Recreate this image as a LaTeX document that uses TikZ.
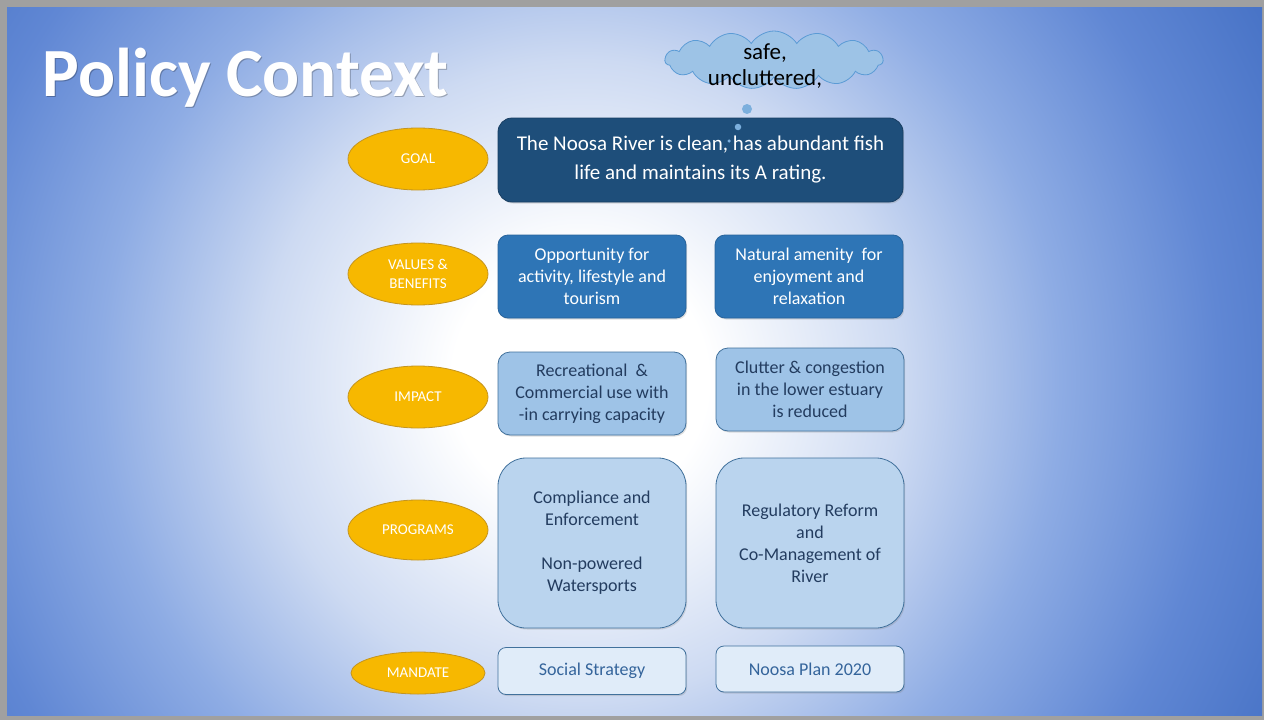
\documentclass[tikz,border=0pt]{standalone}
\usepackage{fontspec}
\setmainfont{Carlito}
\usetikzlibrary{positioning,shapes.geometric,shapes.symbols,shadows}
\definecolor{bgedge}{RGB}{68,112,196}
\definecolor{bgdeep}{RGB}{96,135,212}
\definecolor{bgmid}{RGB}{142,172,228}
\definecolor{bglight}{RGB}{205,218,242}
\definecolor{framegray}{RGB}{160,160,160}
\definecolor{goldfill}{RGB}{247,184,0}
\definecolor{golddraw}{RGB}{196,148,30}
\definecolor{goalblue}{RGB}{30,78,122}
\definecolor{valblue}{RGB}{46,117,182}
\definecolor{impblue}{RGB}{158,195,231}
\definecolor{progblue}{RGB}{186,212,238}
\definecolor{manblue}{RGB}{224,236,249}
\definecolor{edgeblue}{RGB}{65,113,156}
\definecolor{boxtext}{RGB}{35,60,95}
\definecolor{mantext}{RGB}{52,100,155}
\definecolor{cloudfill}{RGB}{157,195,230}
\definecolor{clouddraw}{RGB}{91,155,213}
\pgfdeclareradialshading{slideshade}{\pgfpoint{0bp}{0bp}}{color(0bp)=(white); color(4bp)=(white); color(10bp)=(bglight); color(15bp)=(bgmid); color(20bp)=(bgdeep); color(25bp)=(bgedge); color(50bp)=(bgedge)}
\def\slideframe{(0,0) rectangle (1264,720)}
\def\slidearea{(7,7) rectangle (1262,715)}
\def\slideglow{(580,380) circle (800)}

\begin{document}
\begin{tikzpicture}[x=1pt,y=-1pt,
    tier/.style={ellipse,fill=goldfill,draw=golddraw,line width=0.8pt,minimum width=140pt,minimum height=62pt,inner sep=0pt,text=white,align=center,font=\fontsize{15}{19}\selectfont},
    box/.style={rectangle,draw=edgeblue,line width=0.8pt,inner sep=0pt,align=center,minimum width=188pt,minimum height=83pt,drop shadow={opacity=0.25,shadow xshift=1.2pt,shadow yshift=-1.5pt}},
    goalbox/.style={box,fill=goalblue,draw=goalblue!80!black,text=white,rounded corners=14pt,minimum width=405pt,minimum height=84pt,font=\fontsize{21}{29}\selectfont},
    valbox/.style={box,fill=valblue,draw=valblue!85!black,text=white,rounded corners=10pt,font=\fontsize{18}{22}\selectfont},
    impbox/.style={box,fill=impblue,text=boxtext,rounded corners=12pt,font=\fontsize{18}{22}\selectfont},
    progbox/.style={box,fill=progblue,text=boxtext,rounded corners=28pt,minimum height=170pt,font=\fontsize{18}{22}\selectfont},
    manbox/.style={box,fill=manblue,text=mantext,rounded corners=8pt,minimum height=47pt,font=\fontsize{18}{22}\selectfont},
    bubble/.style={circle,fill=clouddraw!80,inner sep=0pt}]
  \fill[framegray] \slideframe;
  \begin{scope}
    \clip \slidearea;
    \shade[shading=slideshade] \slideglow;
  \end{scope}

  \node[anchor=base west,text=black,opacity=0.25,font=\fontsize{69}{75}\selectfont\bfseries] (titleglow) at (40,97.5) {Policy Context};
  \node[anchor=base west,text=white,font=\fontsize{69}{75}\selectfont\bfseries] (title) at (39,96) {Policy Context};

  \node[cloud,cloud puffs=15,cloud puff arc=115,aspect=3.8,fill=cloudfill,draw=clouddraw,line width=0.8pt,minimum width=218pt,minimum height=58pt,inner sep=0pt] (thought) at (774,60) {};
  \node[align=center,font=\fontsize{23}{26}\selectfont,inner sep=0pt] (thoughttext) at (765,66) {safe,\\uncluttered,};

  \node[goalbox] (goal) at (700.5,160) {The Noosa River is clean, has abundant fish\\life and maintains its A rating.};
  \node[bubble,minimum size=10pt] (bub1) at (747,109) {};
  \node[bubble,minimum size=6.5pt] (bub2) at (738,127) {};
  \node[bubble,minimum size=3.5pt] (bub3) at (729,141) {};

  \node[tier] (goaltier) at (418,159) {GOAL};
  \node[tier] (valtier) at (418,274) {VALUES \&\\BENEFITS};
  \node[tier] (imptier) at (418,397) {IMPACT};
  \node[tier,minimum height=60pt] (progtier) at (418,530) {PROGRAMS};
  \node[tier,minimum width=134pt,minimum height=42pt] (mantier) at (418,673) {MANDATE};

  \node[valbox] (val1) at (592,276.5) {Opportunity for\\activity, lifestyle and\\tourism};
  \node[valbox] (val2) at (809,276.5) {Natural amenity \ for\\enjoyment and\\relaxation};

  \node[impbox] (imp1) at (592,393.5) {Recreational \ \&\\Commercial use with\\-in carrying capacity};
  \node[impbox] (imp2) at (810,389.5) {Clutter \& congestion\\in the lower estuary\\is reduced};

  \node[progbox] (prog1) at (592,543) {Compliance and\\Enforcement\\[22pt]Non-powered\\Watersports};
  \node[progbox] (prog2) at (810,543) {Regulatory Reform\\and\\Co-Management of\\River};

  \node[manbox] (man1) at (592,671) {Social Strategy};
  \node[manbox,minimum height=46pt] (man2) at (810,669) {Noosa Plan 2020};
\end{tikzpicture}
\end{document}
